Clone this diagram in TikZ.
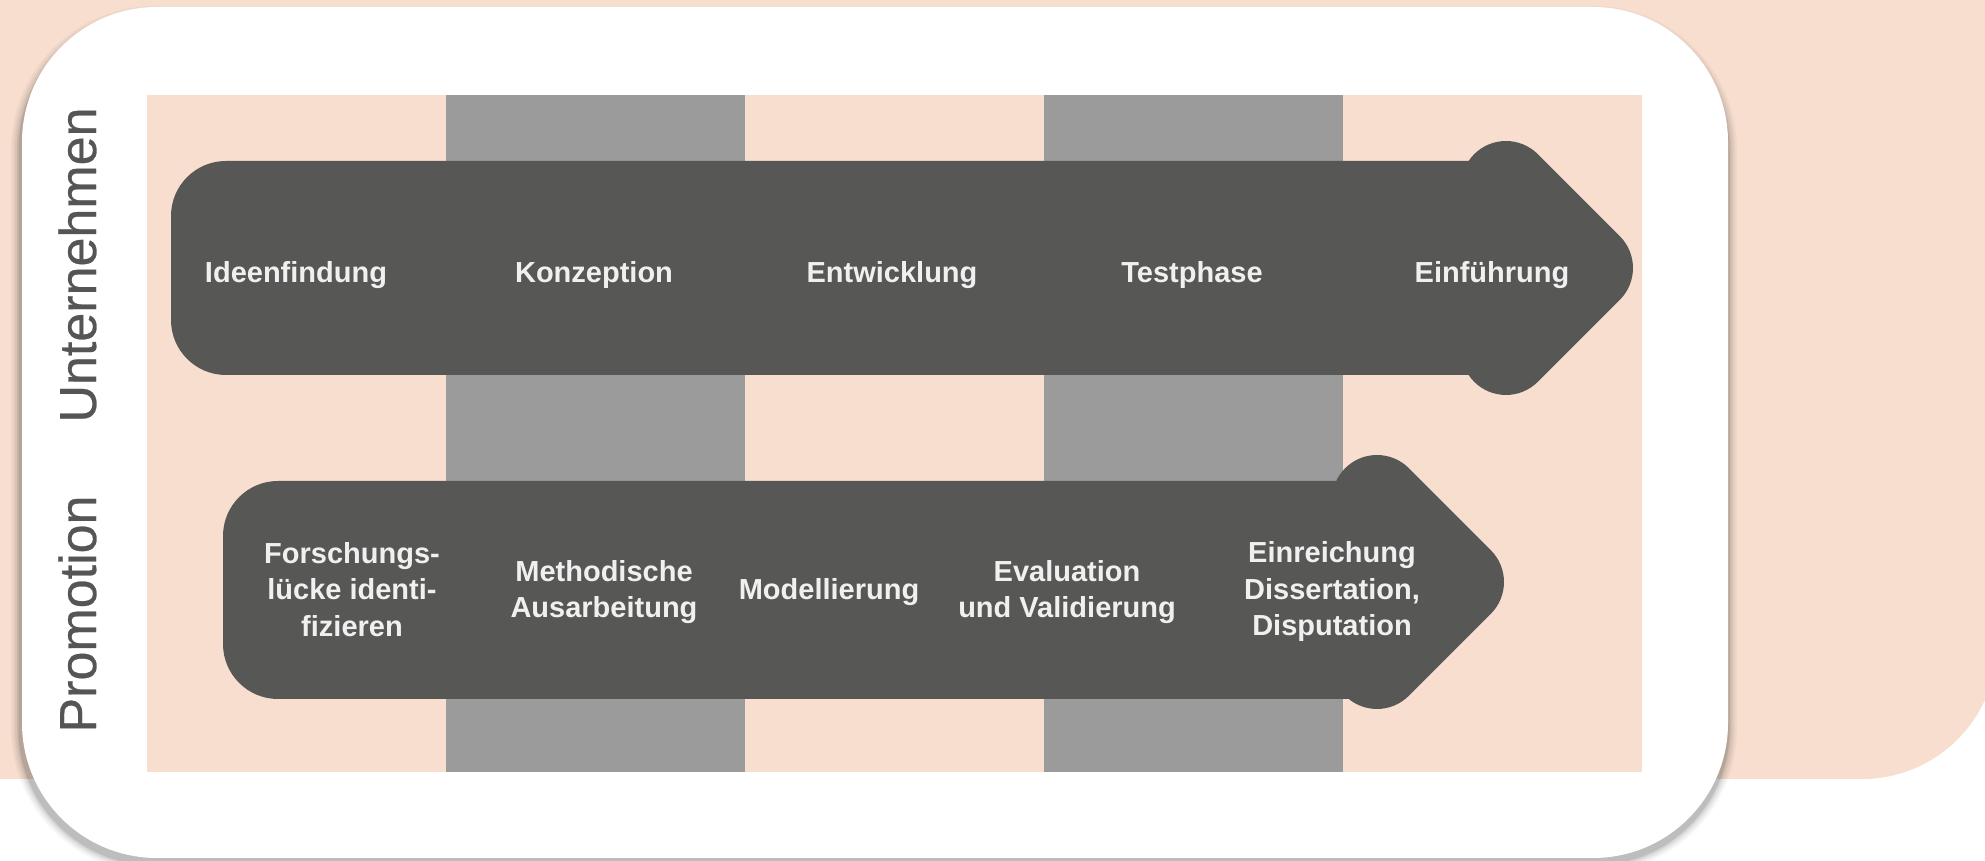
\documentclass[tikz,border=0pt]{standalone}
\usepackage{fontspec}
\setmainfont{Liberation Sans}
\newfontfamily\lblfont[FakeBold=0.5]{Liberation Sans}
\definecolor{peach}{HTML}{F7DECF}
\definecolor{stripe}{HTML}{9B9B9B}
\definecolor{arrowc}{HTML}{575756}
\definecolor{txt}{HTML}{F0F0F0}
\definecolor{lbl}{HTML}{555555}
\newcommand{\ms}{\vrule height 21pt depth 6pt width 0pt}
\tikzset{
 steptext/.style={text=txt, font=\bfseries\fontsize{29}{36.5}\selectfont, align=center, inner sep=0pt, anchor=center},
 sidelabel/.style={text=lbl, font=\lblfont\fontsize{52}{60}\selectfont, rotate=90, anchor=base, inner sep=0pt},
 arrowfill/.style={fill=arrowc},
 panel/.style={fill=peach},
 stripefill/.style={fill=stripe}
}
\begin{document}
\begin{tikzpicture}[x=1pt,y=1pt]
\useasboundingbox (0,0) rectangle (1985,861);
\clip (0,0) rectangle (1985,861);
\fill[white] (0,0) rectangle (1985,861);
% peach background
\fill[peach] (-5,871) -- (1997,871) -- (1997,217) arc[start angle=0,end angle=-90,radius=135] -- (-5,82) -- cycle;
% shadow of the white card
\foreach \e/\o in {9/0.03,7/0.04,5/0.05,3/0.07,1.5/0.09}{
  \pgfmathsetmacro{\rr}{135+\e}
  \fill[black,opacity=\o,rounded corners=\rr pt] (20-\e,-3-\e) rectangle (1728+\e,846+\e);
}
% white card
\fill[white,rounded corners=135pt] (22,3) rectangle (1728,854);
% inner panel and stripes
\fill[panel] (147,89) rectangle (1642,766);
\fill[stripefill] (446,89) rectangle (745,766);
\fill[stripefill] (1044,89) rectangle (1343,766);
% top arrow
\fill[arrowfill] (1500,700) -- (226,700) arc[start angle=90,end angle=180,radius=55] -- (171,541) arc[start angle=180,end angle=270,radius=55] -- (1500,486) -- cycle;
\fill[arrowfill] (1461,675) arc[start angle=180,end angle=45,radius=45] -- (1619.8,624.8) arc[start angle=45,end angle=-45,radius=45] -- (1537.8,479.2) arc[start angle=-45,end angle=-180,radius=45] -- cycle;
% bottom arrow
\fill[arrowfill] (1370,380) -- (278,380) arc[start angle=90,end angle=180,radius=55] -- (223,217) arc[start angle=180,end angle=270,radius=55] -- (1370,162) -- cycle;
\fill[arrowfill] (1332,361) arc[start angle=180,end angle=45,radius=45] -- (1490.8,310.8) arc[start angle=45,end angle=-45,radius=45] -- (1408.8,165.2) arc[start angle=-45,end angle=-180,radius=45] -- cycle;
% top row texts
\node[steptext] (t1) at (296,586) {\ms Ideenfindung};
\node[steptext] (t2) at (594,586) {\ms Konzeption};
\node[steptext] (t3) at (892,586) {\ms Entwicklung};
\node[steptext] (t4) at (1192,586) {\ms Testphase};
\node[steptext] (t5) at (1492,586) {\ms Einführung};
% bottom row texts
\node[steptext] (b1) at (352,269) {\ms Forschungs-\\\ms lücke identi-\\\ms fizieren};
\node[steptext] (b2) at (604,269) {\ms Methodische\\\ms Ausarbeitung};
\node[steptext] (b3) at (829,269) {\ms Modellierung};
\node[steptext] (b4) at (1067,269) {\ms Evaluation\\\ms und Validierung};
\node[steptext] (b5) at (1332,269) {\ms Einreichung\\\ms Dissertation,\\\ms Disputation};
% side labels
\node[sidelabel] (lu) at (96,596) {Unternehmen};
\node[sidelabel] (lp) at (96,247) {Promotion};
\end{tikzpicture}
\end{document}
